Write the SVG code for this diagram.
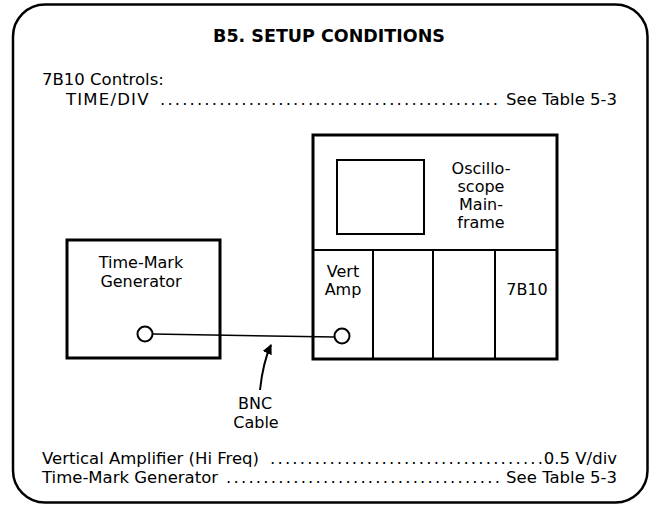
<svg xmlns="http://www.w3.org/2000/svg" width="652" height="508" viewBox="0 0 652 508">
<style>
text{font-family:"DejaVu Sans","Liberation Sans",Arial,sans-serif;font-size:16.5px;fill:#000}
.t{font-weight:bold;font-size:17.5px}
.lbl{font-size:16px}
.m{text-anchor:middle}
.e{text-anchor:end}
.box{fill:none;stroke:#000;stroke-width:3}
.thin{fill:none;stroke:#000;stroke-width:2}
</style>
<defs>
<marker id="ah" viewBox="0 0 10 10" refX="9" refY="5" markerWidth="5" markerHeight="5" orient="auto"><path d="M0,0 L10,5 L0,10 z" fill="#000"/></marker>
</defs>
<rect x="13" y="4.5" width="634.5" height="498" rx="32" ry="32" fill="none" stroke="#000" stroke-width="2.5"/>
<g id="header">
<text class="t m" x="329" y="42">B5. SETUP CONDITIONS</text>
<text x="42" y="85">7B10 Controls:</text>
<text x="66" y="105" letter-spacing="1.2">TIME/DIV</text>
<text x="160" y="105" textLength="338" lengthAdjust="spacing">..............................................</text>
<text class="e" x="617" y="105">See Table 5-3</text>
</g>
<g id="timemark">
<rect class="box" x="67" y="240" width="153" height="118"/>
<text class="lbl m" x="141" y="268">Time-Mark</text>
<text class="lbl m" x="141" y="287">Generator</text>
<circle class="thin" cx="145" cy="334" r="7.5"/>
</g>
<g id="mainframe">
<rect class="box" x="313" y="135" width="244" height="224"/>
<rect class="thin" x="337" y="160" width="87" height="74"/>
<line class="thin" x1="313" y1="250" x2="557" y2="250"/>
<line class="thin" x1="373" y1="250" x2="373" y2="359"/>
<line class="thin" x1="433" y1="250" x2="433" y2="359"/>
<line class="thin" x1="495" y1="250" x2="495" y2="359"/>
<text class="lbl m" x="481" y="174">Oscillo-</text>
<text class="lbl m" x="481" y="192">scope</text>
<text class="lbl m" x="481" y="210">Main-</text>
<text class="lbl m" x="481" y="228">frame</text>
<text class="lbl m" x="343" y="277">Vert</text>
<text class="lbl m" x="343" y="295">Amp</text>
<text class="lbl m" x="527" y="295">7B10</text>
<circle class="thin" cx="342" cy="336" r="7.5"/>
</g>
<g id="connectors">
<line x1="152.5" y1="334" x2="334.5" y2="337" stroke="#000" stroke-width="1.5"/>
<path d="M260,390 Q263,362 271,345" fill="none" stroke="#000" stroke-width="2" marker-end="url(#ah)"/>
</g>
<g id="bnc-label">
<text class="lbl m" x="255" y="409">BNC</text>
<text class="lbl m" x="256" y="428">Cable</text>
</g>
<g id="footer">
<text x="42" y="464">Vertical Amplifier (Hi Freq)</text>
<text x="270" y="464" textLength="273" lengthAdjust="spacing">.....................................</text>
<text class="e" x="617" y="464">0.5 V/div</text>
<text x="42" y="483">Time-Mark Generator</text>
<text x="226" y="483" textLength="274" lengthAdjust="spacing">.....................................</text>
<text class="e" x="617" y="483">See Table 5-3</text>
</g>
</svg>
